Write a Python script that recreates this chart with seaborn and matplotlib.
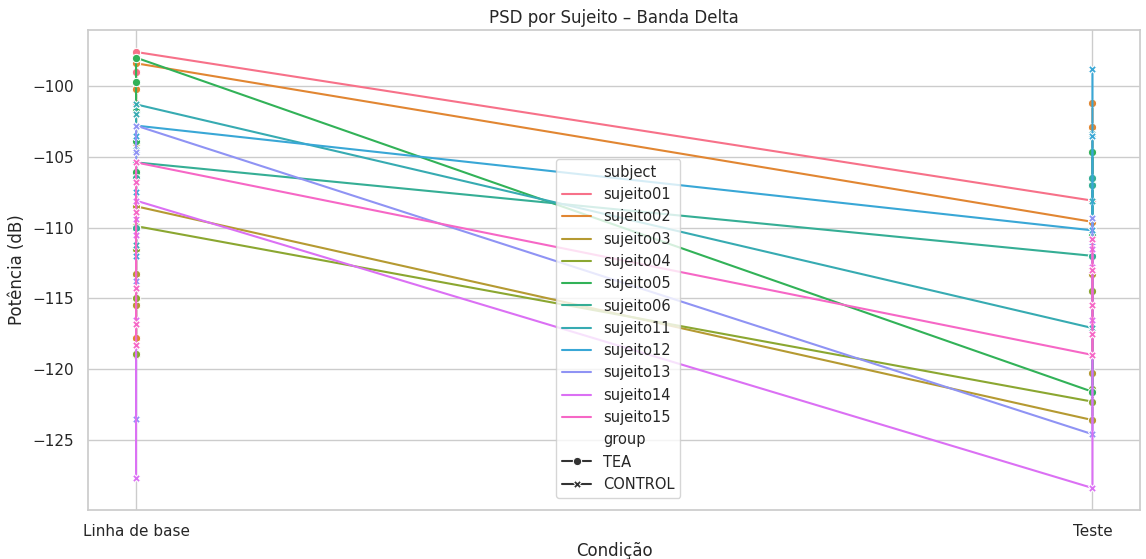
import matplotlib
matplotlib.use("Agg")
import matplotlib.pyplot as plt
import seaborn as sns
import pandas as pd

# Delta-band PSD (dB) per subject, several recordings per condition
subjects = ["sujeito01", "sujeito02", "sujeito03", "sujeito04", "sujeito05",
            "sujeito06", "sujeito11", "sujeito12", "sujeito13", "sujeito14",
            "sujeito15"]
groups = ["TEA", "TEA", "TEA", "TEA", "TEA", "TEA",
          "CONTROL", "CONTROL", "CONTROL", "CONTROL", "CONTROL"]
conditions = ["Linha de base", "Teste"]

baseline_db = [
    [-97.6, -99.0, -101.2],
    [-98.4, -100.2, -104.0, -117.8],
    [-108.5, -113.3, -115.5, -119.0],
    [-109.9, -111.5, -115.0, -118.9],
    [-98.0, -99.7, -101.8, -103.9, -106.1],
    [-105.4, -106.5, -110.0],
    [-101.3, -102.0, -104.5, -111.2],
    [-102.8, -103.5, -107.5, -112.0],
    [-102.8, -104.7, -113.8, -123.5],
    [-108.1, -109.4, -110.5, -116.5, -127.7],
    [-105.4, -106.8, -108.9, -114.3, -116.8, -118.3],
]
teste_db = [
    [-108.1, -106.9, -104.7],
    [-109.6, -102.9, -101.2],
    [-123.6, -120.3, -113.3],
    [-122.3, -121.4, -114.5],
    [-121.6, -110.5, -104.7],
    [-112.0, -107.0, -106.5],
    [-117.1, -108.1, -103.4],
    [-110.2, -103.5, -98.8],
    [-124.6, -111.0, -109.3],
    [-128.4, -116.5, -112.8, -111.5],
    [-119.0, -117.5, -115.5, -113.0, -110.8],
]

rows = []
for subj, grp, base, test in zip(subjects, groups, baseline_db, teste_db):
    for cond, values in zip(conditions, (base, test)):
        for v in values:
            rows.append({"subject": subj, "group": grp,
                         "condition": cond, "power": v})
df = pd.DataFrame(rows)

sns.set_theme(style="whitegrid")
plt.rcParams["font.family"] = ["DejaVu Sans"]
plt.rcParams.update({"xtick.major.pad": 4.5, "ytick.major.pad": 4.5})

fig, ax = plt.subplots(figsize=(11.46, 5.59), dpi=100)
sns.lineplot(data=df, x="condition", y="power", hue="subject",
             style="group", markers=True, dashes=False, estimator=None,
             ax=ax)

ax.set_title("PSD por Sujeito – Banda Delta", pad=5)
ax.set_xlabel("Condição", labelpad=2)
ax.set_ylabel("Potência (dB)")
ax.legend(loc="lower center", bbox_to_anchor=(0.504, 0.01), framealpha=0.8,
          fontsize=10.5, title_fontsize=11)

fig.subplots_adjust(left=0.077, right=0.995, top=0.946, bottom=0.088)
fig.savefig("out.png", dpi=100)
